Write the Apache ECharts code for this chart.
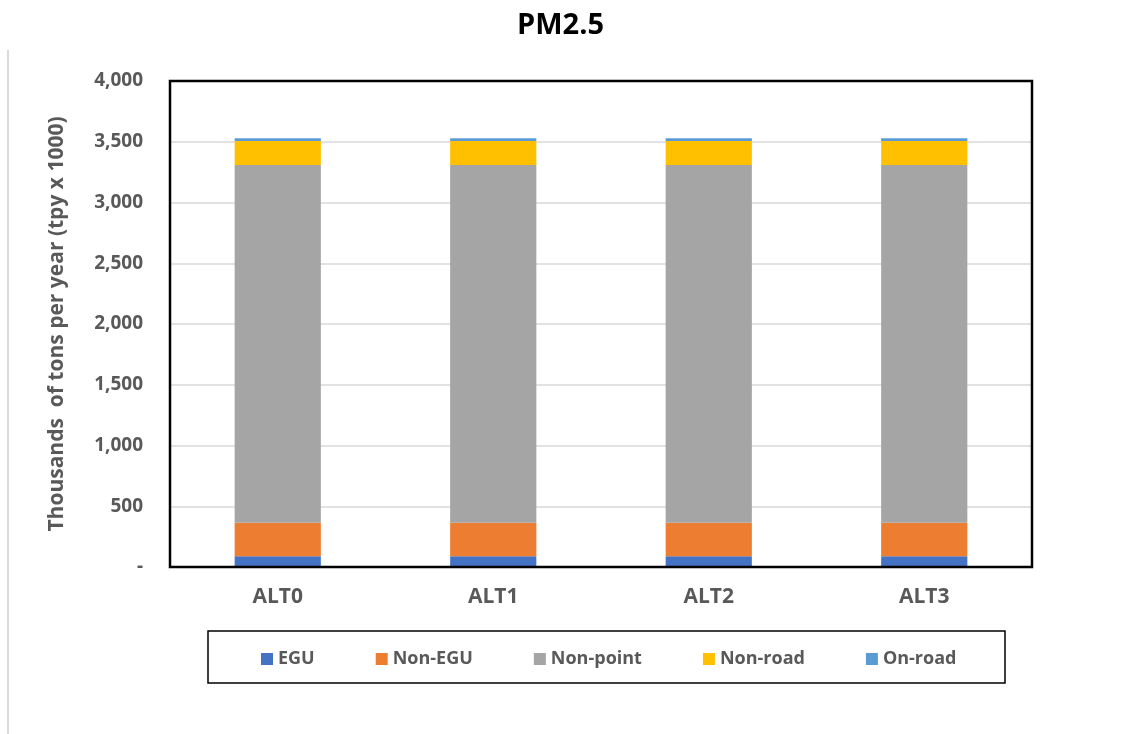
<!DOCTYPE html>
<html>
<head>
<meta charset="utf-8">
<script src="https://cdn.jsdelivr.net/npm/echarts@6/dist/echarts.min.js"></script>
<style>
  html, body { margin: 0; padding: 0; background: #fff; }
  #main { width: 1121px; height: 734px; }
</style>
</head>
<body>
<div id="main"></div>
<script>
  // values (thousands of tons per year)
  var categories = ['ALT0', 'ALT1', 'ALT2', 'ALT3']
  var egu = [88, 88, 88, 88]
  var nonEgu = [277, 277, 277, 277]
  var nonPoint = [2944, 2944, 2944, 2944]
  var nonRoad = [197, 197, 197, 197]
  var onRoad = [22, 22, 22, 22]

  var seriesNames = ['EGU', 'Non-EGU', 'Non-point', 'Non-road', 'On-road']
  var seriesColors = ['#4472c4', '#ed7d31', '#a5a5a5', '#ffc000', '#5b9bd5']
  var seriesData = [egu, nonEgu, nonPoint, nonRoad, onRoad]

  var font = '"Open Sans", "Liberation Sans", sans-serif'

  var chartDom = document.getElementById('main')
  var myChart = echarts.init(chartDom)

  var series = seriesNames.map(function (name, i) {
    return {
      name: name,
      type: 'bar',
      stack: 'total',
      barWidth: '40%',
      itemStyle: { color: seriesColors[i] },
      data: seriesData[i],
    }
  })

  var option = {
    animation: false,
    title: {
      text: 'PM2.5',
      left: 'center',
      top: 6,
      textStyle: { fontFamily: font, fontSize: 29, fontWeight: 'bold', color: '#000' },
    },
    grid: {
      left: 170,
      right: 89,
      top: 81,
      bottom: 167,
    },
    legend: {
      data: seriesNames,
      left: 256,
      top: 645,
      itemWidth: 12,
      itemHeight: 12,
      itemGap: 61,
      icon: 'rect',
      textStyle: { fontFamily: font, fontSize: 18, fontWeight: 'bold', color: '#595959' },
    },
    graphic: [
      {
        type: 'rect',
        shape: { x: 208, y: 631, width: 797, height: 52 },
        style: { fill: 'none', stroke: '#000', lineWidth: 1.5 },
      },
      {
        type: 'rect',
        z: 100,
        shape: { x: 170, y: 81, width: 862, height: 486 },
        style: { fill: 'none', stroke: '#000', lineWidth: 2.5 },
      },
      {
        type: 'line',
        shape: { x1: 8, y1: 50, x2: 8, y2: 734 },
        style: { stroke: '#d9d9d9', lineWidth: 2 },
      },
    ],
    xAxis: {
      type: 'category',
      data: categories,
      axisTick: { show: false },
      axisLine: { lineStyle: { color: '#595959', width: 2 } },
      axisLabel: {
        margin: 20,
        fontFamily: font,
        fontSize: 21,
        fontWeight: 'bold',
        color: '#595959',
      },
    },
    yAxis: {
      type: 'value',
      min: 0,
      max: 4000,
      interval: 500,
      name: 'Thousands  of tons per year (tpy x 1000)',
      nameLocation: 'middle',
      nameGap: 102,
      nameTextStyle: { fontFamily: font, fontSize: 21, fontWeight: 'bold', color: '#595959' },
      axisLine: { show: false },
      axisTick: { show: false },
      splitLine: { lineStyle: { color: '#d9d9d9', width: 1.5 } },
      axisLabel: {
        margin: 27,
        fontFamily: font,
        fontSize: 19,
        fontWeight: 'bold',
        color: '#595959',
        formatter: function (v) {
          if (v === 0) return '-'
          return v.toLocaleString('en-US')
        },
      },
    },
    series: series,
  }

  myChart.setOption(option)
</script>
</body>
</html>
